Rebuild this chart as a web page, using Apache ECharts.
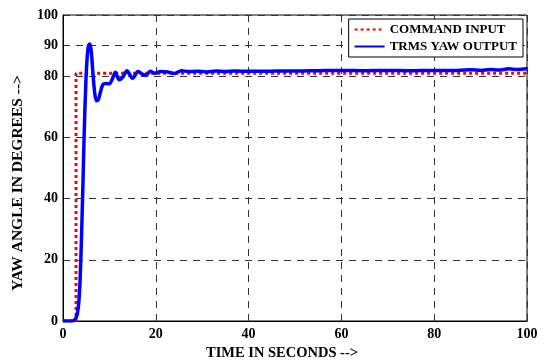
<!DOCTYPE html>
<html>
<head>
<meta charset="utf-8">
<script src="https://cdn.jsdelivr.net/npm/echarts@6/dist/echarts.min.js"></script>
<style>html,body{margin:0;padding:0;background:#fff}#c{width:545px;height:360px}</style>
</head>
<body>
<div id="c"></div>
<script>
const xTicks = [0, 20, 40, 60, 80, 100];
const yTicks = [0, 20, 40, 60, 80, 90, 100];
const commandT = [0, 2.8, 2.8, 100];
const commandV = [0, 0, 81, 81];
const outputT = [0,1,2,2.4,2.8,3.1,3.4,3.7,4.0,4.3,4.6,4.9,5.2,5.5,5.8,6.1,6.4,6.8,7.2,7.6,8.1,8.6,9.2,10,10.6,11.3,12.1,12.8,13.8,15,16.2,17.2,17.9,18.8,19.8,21,22.5,24.1,25.5,27,29,31,33,35,37,40,43,46,50,55,60,65,70,75,80,85,88,90,92,94,96,98,100];
const outputV = [0,0,0,0.3,1,2.5,6,14,28,45,63,77,86,90,90.5,88,82,75,72,72.3,75,77.3,77.6,77.5,79,81.3,78.8,79.5,81.8,79.3,81.5,80.6,80.3,81.6,81,81.5,81.4,80.9,81.8,81.5,81.6,81.4,81.7,81.5,81.7,81.6,81.6,81.7,81.7,81.8,81.9,81.8,81.9,81.8,81.9,81.9,82.1,81.9,82.2,82.0,82.4,82.2,82.5];

const zip = (a, b) => a.map((v, i) => [v, b[i]]);
const font = 'Liberation Serif';
const chart = echarts.init(document.getElementById('c'));
chart.setOption({
  animation: false,
  backgroundColor: '#fff',
  grid: { left: 63, right: 18, top: 15, bottom: 39, outerBoundsMode: 'none', containLabel: false, show: true, borderColor: '#000', borderWidth: 1, backgroundColor: 'transparent' },
  legend: {
    orient: 'vertical', right: 22, top: 19,
    backgroundColor: '#fff', borderColor: '#000', borderWidth: 1,
    padding: [4, 6, 4, 5], itemGap: 4, itemWidth: 30, itemHeight: 14,
    itemStyle: { opacity: 0 },
    textStyle: { fontFamily: font, fontWeight: 'bold', fontSize: 13, color: '#000' },
    data: ['COMMAND INPUT', 'TRMS YAW OUTPUT']
  },
  xAxis: {
    type: 'value', min: 0, max: 100, interval: 20,
    axisTick: { show: false, customValues: xTicks },
    name: 'TIME IN SECONDS -->', nameLocation: 'middle', nameGap: 21,
    nameTextStyle: { fontFamily: font, fontWeight: 'bold', fontSize: 14.5, color: '#000', padding: [0, 26, 0, 0] },
    axisLine: { lineStyle: { color: '#000', width: 1 } },
    axisLabel: { fontFamily: font, fontWeight: 'bold', fontSize: 14, color: '#000', margin: 6, customValues: xTicks },
    splitLine: { show: true, lineStyle: { color: '#333', type: [7, 6], width: 1 } }
  },
  yAxis: {
    type: 'value', min: 0, max: 100,
    name: 'YAW ANGLE IN DEGREES -->', nameLocation: 'middle', nameGap: 27,
    nameTextStyle: { fontFamily: font, fontWeight: 'bold', fontSize: 15.5, color: '#000', padding: [10, 30, 0, 0] },
    axisLine: { lineStyle: { color: '#000', width: 1 } },
    axisTick: { show: false, customValues: yTicks },
    axisLabel: { fontFamily: font, fontWeight: 'bold', fontSize: 14, color: '#000', margin: 5, customValues: yTicks },
    splitLine: { show: true, lineStyle: { color: '#333', type: [7, 6], width: 1 } }
  },
  series: [
    {
      name: 'COMMAND INPUT', type: 'line', data: zip(commandT, commandV),
      showSymbol: false, symbol: 'none', z: 3,
      lineStyle: { color: '#ff0000', width: 3, type: [3, 3] },
      itemStyle: { color: '#ff0000' }
    },
    {
      name: 'TRMS YAW OUTPUT', type: 'line', data: zip(outputT, outputV),
      showSymbol: false, symbol: 'none', smooth: 0.3, z: 4,
      lineStyle: { color: '#0000ff', width: 3.5 },
      itemStyle: { color: '#0000ff' }
    }
  ]
});
</script>
</body>
</html>
